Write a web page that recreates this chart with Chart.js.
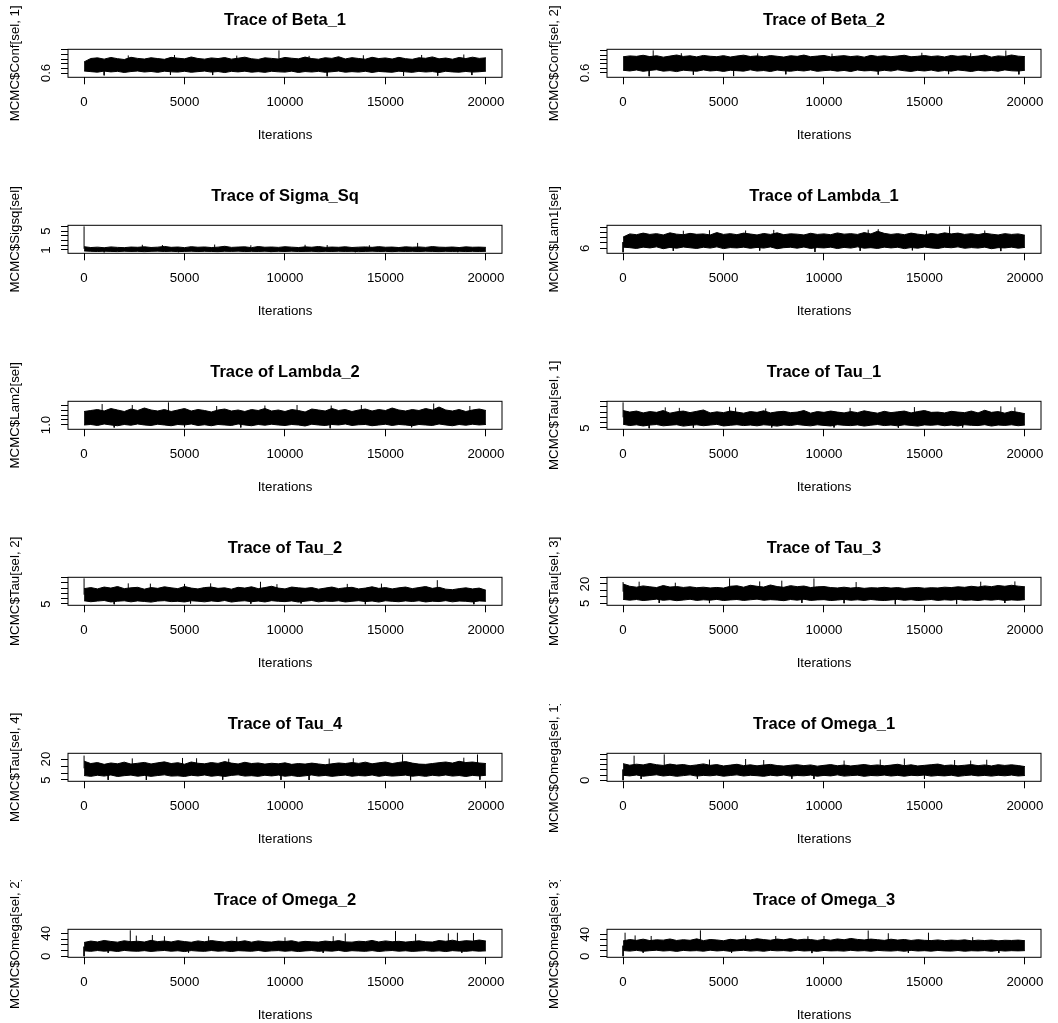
<!DOCTYPE html>
<html><head><meta charset="utf-8">
<script src="https://cdn.jsdelivr.net/npm/chart.js@4.4.1/dist/chart.umd.min.js"></script>
<style>
html,body{margin:0;padding:0;background:#fff;overflow:hidden;}
#wrap{position:relative;width:1058px;height:1023px;overflow:hidden;}
.panel{position:absolute;width:529px;height:176px;}
canvas{display:block;}
</style></head><body><div id="wrap"></div>
<script>
// Iteration axis shared by every trace
const iterFirst = 1, iterLast = 20000;
const iterTicks = [0, 5000, 10000, 15000, 20000];

// Each trace: upper / lower envelope of the chain (sampled evenly over the run),
// plus single-draw excursions [iteration, value] that poke out of the band.
const beta1Ticks = [0.6, 0.65, 0.7, 0.75, 0.8, 0.85];
const beta1TickLabels = ['0.6', '', '', '', '', ''];
const beta1Hi = [0.72,0.757,0.764,0.75,0.768,0.755,0.746,0.77,0.758,0.751,0.765,0.756,0.748,0.769,0.76,0.753,0.773,0.757,0.75,0.763,0.756,0.767,0.75,0.76,0.771,0.754,0.747,0.764,0.758,0.751,0.768,0.76,0.753,0.772,0.756,0.749,0.765,0.758,0.776,0.752,0.766,0.757,0.749,0.77,0.756,0.763,0.751,0.769,0.755,0.748,0.765,0.759,0.774,0.753,0.762,0.749,0.768,0.756,0.771,0.758,0.764];
const beta1Lo = [0.622,0.615,0.609,0.621,0.612,0.618,0.606,0.616,0.622,0.611,0.617,0.607,0.62,0.613,0.61,0.619,0.608,0.615,0.621,0.61,0.616,0.605,0.618,0.612,0.62,0.609,0.615,0.607,0.619,0.613,0.61,0.62,0.606,0.616,0.611,0.618,0.608,0.614,0.621,0.609,0.615,0.61,0.619,0.606,0.617,0.612,0.608,0.62,0.613,0.607,0.618,0.611,0.616,0.605,0.619,0.612,0.609,0.617,0.61,0.614,0.62];
const beta1Spikes = [[9700,0.845],[2200,0.79],[4500,0.795],[7600,0.788],[11200,0.785],[13900,0.792],[16800,0.795],[18900,0.8],[1000,0.575],[4300,0.58],[6400,0.578],[12100,0.565],[15900,0.57],[17600,0.572],[19300,0.578]];

const beta2Ticks = [0.6, 0.65, 0.7, 0.75, 0.8, 0.85];
const beta2TickLabels = ['0.6', '', '', '', '', ''];
const beta2Hi = [0.78,0.79,0.785,0.797,0.782,0.792,0.776,0.788,0.8,0.784,0.791,0.779,0.795,0.786,0.781,0.793,0.777,0.789,0.798,0.783,0.79,0.78,0.794,0.786,0.777,0.792,0.785,0.799,0.781,0.788,0.795,0.779,0.787,0.793,0.782,0.79,0.776,0.796,0.784,0.791,0.781,0.789,0.797,0.78,0.786,0.794,0.783,0.79,0.778,0.795,0.785,0.792,0.781,0.788,0.799,0.776,0.79,0.784,0.8,0.787,0.782];
const beta2Lo = [0.63,0.622,0.633,0.618,0.628,0.636,0.62,0.626,0.615,0.631,0.624,0.619,0.634,0.622,0.628,0.617,0.63,0.625,0.62,0.635,0.621,0.627,0.616,0.632,0.624,0.619,0.629,0.622,0.634,0.618,0.626,0.631,0.62,0.628,0.616,0.633,0.623,0.627,0.619,0.63,0.621,0.635,0.624,0.617,0.629,0.622,0.632,0.618,0.627,0.62,0.633,0.625,0.616,0.63,0.622,0.628,0.619,0.634,0.624,0.621,0.63];
const beta2Spikes = [[1500,0.852],[19050,0.85],[14870,0.825],[2900,0.82],[6700,0.818],[10400,0.815],[17300,0.82],[1300,0.563],[5500,0.565],[3500,0.58],[8100,0.585],[12700,0.582],[16200,0.587],[19700,0.584]];

const sigmaTicks = [1, 2, 3, 4, 5, 6];
const sigmaTickLabels = ['1', '', '', '', '5', ''];
const sigmaHi = [1.7,1.52,1.6,1.48,1.65,1.55,1.5,1.62,1.57,1.68,1.53,1.6,1.75,1.56,1.63,1.5,1.7,1.58,1.64,1.52,1.6,1.78,1.55,1.62,1.67,1.5,1.73,1.58,1.63,1.55,1.69,1.6,1.52,1.66,1.58,1.74,1.55,1.62,1.57,1.68,1.53,1.6,1.65,1.56,1.71,1.58,1.62,1.52,1.67,1.59,1.64,1.55,1.72,1.6,1.56,1.63,1.52,1.66,1.58,1.61,1.55];
const sigmaLo = [0.8,0.72,0.68,0.75,0.7,0.66,0.74,0.69,0.72,0.65,0.71,0.76,0.68,0.73,0.66,0.7,0.74,0.67,0.72,0.69,0.65,0.73,0.7,0.76,0.67,0.71,0.68,0.74,0.66,0.72,0.69,0.75,0.67,0.7,0.73,0.65,0.71,0.68,0.74,0.69,0.72,0.66,0.7,0.75,0.68,0.71,0.65,0.73,0.69,0.72,0.67,0.74,0.7,0.66,0.72,0.69,0.73,0.67,0.71,0.68,0.72];
const sigmaSpikes = [[1,6.0],[16600,2.5],[2900,2.1],[3900,2.05],[6500,2.15],[8300,2.0],[11000,2.1],[12100,2.05],[14200,2.0],[1000,0.52],[4700,0.55],[9300,0.56],[13500,0.54],[18600,0.55]];

const lam1Ticks = [6, 7, 8, 9, 10];
const lam1TickLabels = ['6', '', '', '', ''];
const lam1Hi = [8.1,8.7,8.55,8.85,8.6,8.75,8.5,8.9,8.65,8.55,8.8,8.62,8.7,8.5,8.95,8.6,8.75,8.55,8.85,8.68,8.5,8.78,8.6,8.9,8.55,8.72,8.65,8.5,8.82,8.6,8.7,8.55,8.88,8.65,8.75,8.6,8.95,8.7,9.2,8.8,8.6,8.75,8.55,8.85,8.65,8.5,8.78,8.62,8.9,8.7,8.85,8.6,8.75,8.55,8.82,8.65,8.5,8.75,8.6,8.7,8.45];
const lam1Lo = [6.2,6.1,5.95,6.2,6.05,6.25,5.9,6.15,6.0,6.22,6.08,5.95,6.18,6.02,6.25,5.92,6.12,6.05,6.2,5.98,6.15,6.02,6.24,5.9,6.1,6.18,6.0,6.22,5.95,6.12,6.05,6.2,5.93,6.15,6.02,6.25,6.0,6.1,5.95,6.2,6.05,6.18,5.92,6.12,6.0,6.22,6.05,5.95,6.18,6.08,6.25,5.98,6.12,6.02,6.2,5.9,6.1,6.05,6.2,6.0,6.15];
const lam1Spikes = [[1,5.23],[9550,5.3],[16250,10.13],[3000,9.3],[4300,9.4],[6100,9.35],[7500,9.45],[12200,9.5],[12700,9.6],[15100,9.3],[18000,9.35],[2500,5.5],[6800,5.55],[11800,5.5],[14400,5.6],[18800,5.45]];

const lam2Ticks = [1.0, 1.1, 1.2, 1.3, 1.4];
const lam2TickLabels = ['1.0', '', '', '', ''];
const lam2Hi = [1.27,1.29,1.31,1.28,1.33,1.3,1.27,1.32,1.29,1.34,1.3,1.28,1.31,1.27,1.3,1.33,1.28,1.31,1.29,1.26,1.3,1.32,1.28,1.3,1.27,1.31,1.29,1.33,1.28,1.3,1.27,1.31,1.29,1.26,1.32,1.3,1.28,1.33,1.29,1.31,1.27,1.3,1.32,1.28,1.31,1.29,1.34,1.3,1.28,1.31,1.29,1.33,1.3,1.36,1.3,1.28,1.31,1.27,1.3,1.32,1.29];
const lam2Lo = [1.0,1.01,0.99,1.02,1.0,0.985,1.01,0.995,1.02,1.0,0.99,1.015,1.0,0.985,1.01,1.0,1.02,0.99,1.005,0.985,1.01,1.0,0.99,1.02,1.0,0.985,1.01,0.995,1.015,1.0,0.99,1.01,1.0,0.98,1.015,1.0,0.99,1.01,1.0,1.02,0.99,1.005,1.01,0.985,1.0,1.015,0.99,1.01,1.0,0.985,1.01,1.0,0.99,1.02,1.0,0.985,1.01,0.995,1.015,1.0,1.01];
const lam2Spikes = [[4200,1.454],[12250,0.934],[900,1.42],[2400,1.4],[6600,1.38],[9000,1.39],[10600,1.4],[12300,1.39],[13800,1.4],[17400,1.43],[19200,1.38],[1500,0.95],[5000,0.955],[7800,0.95],[16300,0.955]];

const tau1Ticks = [5, 6, 7, 8, 9, 10];
const tau1TickLabels = ['5', '', '', '', '', ''];
const tau1Hi = [8.3,8.0,8.2,7.85,8.1,7.95,8.3,7.8,8.05,8.2,7.9,8.15,8.4,7.85,8.05,7.9,8.2,8.0,7.8,8.1,7.95,8.25,7.85,8.05,8.15,7.9,8.0,8.3,7.8,8.1,7.95,8.2,8.0,7.85,8.1,7.9,8.25,8.0,7.8,8.15,7.9,8.05,8.2,7.85,8.1,8.3,7.95,8.0,7.85,8.15,8.0,7.9,8.2,7.85,8.35,7.95,8.1,7.8,8.15,7.95,7.7];
const tau1Lo = [5.7,5.45,5.6,5.38,5.55,5.65,5.4,5.52,5.62,5.35,5.5,5.6,5.42,5.55,5.68,5.38,5.5,5.62,5.45,5.55,5.4,5.6,5.5,5.35,5.58,5.45,5.65,5.5,5.4,5.6,5.48,5.38,5.62,5.5,5.44,5.58,5.36,5.52,5.65,5.45,5.55,5.4,5.6,5.48,5.35,5.58,5.5,5.62,5.42,5.55,5.38,5.6,5.5,5.45,5.62,5.36,5.55,5.48,5.6,5.42,5.55];
const tau1Spikes = [[1,9.85],[1300,4.94],[2100,8.9],[2800,8.8],[5300,9.0],[5600,8.85],[7100,8.7],[11300,8.8],[14500,8.95],[18800,9.1],[19500,8.9],[3500,5.05],[7400,5.1],[10500,5.1],[13700,5.05],[16900,5.1]];

const tau2Ticks = [5, 6, 7, 8, 9, 10];
const tau2TickLabels = ['5', '', '', '', '', ''];
const tau2Hi = [7.9,8.1,7.85,8.2,8.0,8.3,7.9,8.05,8.15,7.8,8.1,7.95,8.25,8.05,7.9,8.3,8.0,7.85,8.1,8.2,7.95,8.05,7.8,8.15,8.0,8.25,7.9,8.1,8.35,8.0,7.85,8.2,8.05,7.95,8.1,7.8,8.0,8.2,7.9,8.05,8.15,7.85,8.0,8.25,7.95,8.1,7.85,8.05,8.2,7.9,8.1,8.3,7.95,8.15,7.8,7.7,7.9,8.05,7.85,8.0,7.6];
const tau2Lo = [5.6,5.42,5.55,5.65,5.38,5.52,5.6,5.4,5.58,5.47,5.35,5.55,5.62,5.44,5.5,5.38,5.6,5.52,5.4,5.58,5.45,5.65,5.36,5.52,5.6,5.42,5.55,5.38,5.62,5.5,5.44,5.58,5.36,5.52,5.65,5.4,5.55,5.48,5.6,5.38,5.5,5.62,5.45,5.56,5.36,5.6,5.5,5.42,5.58,5.46,5.6,5.38,5.52,5.45,5.62,5.4,5.55,5.5,5.38,5.58,5.5];
const tau2Spikes = [[1,9.85],[17580,9.5],[8780,9.2],[2200,8.9],[3300,8.85],[5000,8.8],[6300,8.9],[9600,8.75],[13100,8.8],[14800,8.85],[1500,4.94],[14000,4.95],[19400,4.95],[5300,5.1],[8300,5.05],[10800,5.1]];

const tau3Ticks = [5, 10, 15, 20, 25];
const tau3TickLabels = ['5', '', '', '20', ''];
const tau3Hi = [20,18.2,17.5,18.5,17.8,17.2,18.8,17.6,18,17.3,17.8,17.1,17.5,16.9,17.3,16.8,18.2,18.6,17.5,19,18.2,17.6,19.2,18,17.4,18.7,17.9,18.4,17.2,17.8,18,17.2,16.9,17.5,16.8,17.3,16.6,17.1,16.9,17.4,16.8,17.2,16.5,17,17.3,16.7,17.1,16.9,17.5,17.2,17.8,17.4,18.2,17.6,18.5,17.9,18.8,18.2,19,18.3,17.8];
const tau3Lo = [8,7.4,7.9,7.1,7.6,8.2,7.3,7.8,7,7.5,8.1,7.2,7.7,7.4,8,7.1,7.6,7.9,7.2,7.7,8.2,7.3,7.8,7.5,7,7.9,7.4,8.1,7.2,7.6,7.8,7.1,7.5,8,7.3,7.7,7.2,7.9,7.4,7.1,7.6,8,7.3,7.8,7.1,7.5,7.9,7.2,7.7,7.4,8,7.3,7.6,7.1,7.8,7.4,7.9,7.2,7.6,7.3,7.8];
const tau3Spikes = [[5300,24.4],[9500,24.3],[1,21.5],[800,21.8],[2600,21],[6800,22],[7900,22.6],[11600,21.5],[17800,21.8],[19500,22],[13550,4.2],[16600,4.3],[1800,5.2],[4300,5.1],[8900,5.3],[11000,5.0],[19000,5.2]];

const tau4Ticks = [5, 10, 15, 20];
const tau4TickLabels = ['5', '', '', '20'];
const tau4Hi = [18.5,16.8,17.5,16.2,17.2,16.6,17.8,16.4,17,17.6,16.5,17.3,18,16.8,17.4,16.3,17.9,17,16.6,17.5,16.9,18.2,17.1,16.5,17.7,16.8,17.2,16.4,17,16.6,17.3,16.2,16.8,16.4,17.1,16.5,15.9,16.6,17.2,16.8,17.5,16.9,17.8,16.6,17.3,17.9,16.8,17.6,18.2,17.1,16.4,16.2,16.8,17.4,17.9,17.1,18.4,17.5,17.9,17.2,16.8];
const tau4Lo = [8.2,7.6,8.4,7.8,8.6,7.5,8.1,8.5,7.7,8.3,7.6,8.2,8.7,7.8,8,7.5,8.4,7.9,8.6,7.7,8.2,7.5,8.3,8.7,7.8,8.1,7.6,8.4,7.9,8.5,7.7,8.2,7.5,8,8.6,7.8,8.3,7.6,8.1,8.5,7.7,8.2,7.9,8.6,7.6,8.3,7.8,8.1,8.5,7.7,8.2,7.6,8.4,7.9,8.6,7.8,8.2,7.5,8.3,7.9,8.4];
const tau4Spikes = [[1,22.5],[15850,23.4],[19580,23.3],[2400,20.5],[4900,20.8],[5600,20.6],[7200,20.3],[12200,20.4],[13400,20.6],[18900,21],[16250,4.8],[1200,5.1],[3100,5.0],[6900,5.2],[9800,5.1],[11200,5.0],[19700,5.2]];

const om1Ticks = [0, 5, 10, 15, 20, 25];
const om1TickLabels = ['0', '', '', '', '', ''];
const om1Hi = [16,14.5,15.5,14.8,16.2,15,14.3,15.6,14.6,15.2,14,14.8,15.8,14.4,15.1,13.8,14.6,15.4,14.1,14.9,13.9,14.7,15.3,14.2,13.7,14.5,15,14.1,14.8,13.6,14.4,15.1,14,14.7,13.8,14.5,15.2,14.2,14.8,13.9,14.6,15.4,14.1,14.9,13.8,14.4,15,15.6,14.2,14.7,13.9,14.5,15.1,14.1,14.8,13.8,15,14.3,14.9,14.2,13.2];
const om1Lo = [4.8,4.2,5.1,3.9,4.6,5.3,4.1,4.8,3.8,4.5,5.2,4,4.7,4.3,5,3.9,4.6,5.2,4.1,4.8,4.4,3.8,4.9,4.2,5.1,4,4.6,4.3,5,3.9,4.7,4.2,5.2,4,4.5,4.9,3.8,4.6,4.3,5,4.1,4.7,3.9,4.8,4.4,5.1,4,4.6,4.2,4.9,3.8,4.5,5,4.2,4.7,4,4.8,4.3,5,4.1,4.6];
const om1Spikes = [[1,0],[550,23.7],[2050,25],[4300,20],[6100,20.5],[7000,19.5],[11000,19],[12800,20],[14000,21],[16500,19.5],[17300,19],[18100,19.8],[900,1.3],[3700,1.5],[8400,1.4],[9500,1.2],[15000,1.3]];

const om2Ticks = [0, 10, 20, 30, 40];
const om2TickLabels = ['0', '', '', '', '40'];
const om2Hi = [24,26.5,25,27.5,25.8,24.6,27,25.4,26.2,24.8,27.8,25.5,26.6,24.9,27.2,25.6,24.4,26.8,25.2,27.4,25.9,24.7,26.3,25.1,27,24.6,26.7,25.3,24.8,26.4,25.7,27.1,24.5,26,25.2,24.7,26.5,25.4,27.3,25,24.6,26.2,25.5,27.6,24.9,26.8,25.3,26.1,24.7,25.8,26.9,25.2,24.8,27.4,26.1,28,25.6,27.2,26.4,28.3,26.5];
const om2Lo = [9.5,8.6,10,8.9,9.7,8.3,10.2,9.1,8.7,9.8,8.4,9.4,10.1,8.8,9.6,8.2,9.9,9,8.6,10,8.9,9.5,8.3,9.8,9.2,8.7,10.1,8.5,9.4,9.9,8.8,9.6,8.2,9.3,10,8.6,9.5,8.9,10.2,8.4,9.7,9.1,8.6,9.9,8.3,9.4,10,8.8,9.6,8.5,9.2,9.9,8.7,9.5,8.2,9.8,9,8.6,9.7,8.9,9.4];
const om2Spikes = [[1,0],[2300,45.2],[15500,44],[13000,40],[16500,39],[18130,40],[18580,41],[19380,40.5],[2600,36],[3400,37],[4000,35],[6200,35],[7600,34],[10000,33],[12400,35],[1200,6],[5200,6.5],[11900,6],[18800,6.2]];

const om3Ticks = [0, 10, 20, 30, 40];
const om3TickLabels = ['0', '', '', '', '40'];
const om3Hi = [28,30.5,29,31.2,28.6,30,29.4,31.5,28.8,30.2,29.1,31.8,28.5,30.6,29.7,28.3,30.9,29.5,31.1,29.8,32,30.4,29.2,31.4,30,32.2,29.6,31,30.5,28.9,30.8,29.3,31.6,30.1,32.5,30.7,29.8,31.3,30.2,29,31.1,29.5,30.6,28.8,30.2,29.1,28.6,29.8,28.4,29.5,28.9,29.9,28.2,29.4,28.7,29.6,28.1,29.2,28.8,29.5,28.4];
const om3Lo = [10.5,9.4,10.8,9.1,10.2,11,9.6,10.4,8.9,10.7,9.8,10.3,9.2,11.1,9.7,10.5,9,10.1,10.9,9.5,10.3,9.1,10.8,9.9,10.4,9.3,11,9.6,10.2,9,10.6,9.8,10.1,9.4,10.9,9.7,10.3,9.2,10.7,9.9,9.5,10.4,9.1,10.8,9.6,10.2,9.3,10.6,9.8,9.4,10.5,9.2,10.1,9.7,10.4,9.1,10.6,9.5,10.2,9.8,10.3];
const om3Spikes = [[1,0],[100,43],[3850,47.3],[12200,47],[15200,43],[13200,42],[600,38],[1400,37],[6100,38],[7600,37],[9200,36.5],[10000,37],[17400,35],[1000,6.5],[5400,6],[9400,5.8],[14200,6.2],[18700,6]];

const titles = ['Trace of Beta_1', 'Trace of Beta_2', 'Trace of Sigma_Sq', 'Trace of Lambda_1',
  'Trace of Lambda_2', 'Trace of Tau_1', 'Trace of Tau_2', 'Trace of Tau_3',
  'Trace of Tau_4', 'Trace of Omega_1', 'Trace of Omega_2', 'Trace of Omega_3'];
const yTitles = ['MCMC$Conf[sel, 1]', 'MCMC$Conf[sel, 2]', 'MCMC$Sigsq[sel]', 'MCMC$Lam1[sel]',
  'MCMC$Lam2[sel]', 'MCMC$Tau[sel, 1]', 'MCMC$Tau[sel, 2]', 'MCMC$Tau[sel, 3]',
  'MCMC$Tau[sel, 4]', 'MCMC$Omega[sel, 1]', 'MCMC$Omega[sel, 2]', 'MCMC$Omega[sel, 3]'];

const series = [
  [beta1Ticks, beta1TickLabels, beta1Hi, beta1Lo, beta1Spikes],
  [beta2Ticks, beta2TickLabels, beta2Hi, beta2Lo, beta2Spikes],
  [sigmaTicks, sigmaTickLabels, sigmaHi, sigmaLo, sigmaSpikes],
  [lam1Ticks, lam1TickLabels, lam1Hi, lam1Lo, lam1Spikes],
  [lam2Ticks, lam2TickLabels, lam2Hi, lam2Lo, lam2Spikes],
  [tau1Ticks, tau1TickLabels, tau1Hi, tau1Lo, tau1Spikes],
  [tau2Ticks, tau2TickLabels, tau2Hi, tau2Lo, tau2Spikes],
  [tau3Ticks, tau3TickLabels, tau3Hi, tau3Lo, tau3Spikes],
  [tau4Ticks, tau4TickLabels, tau4Hi, tau4Lo, tau4Spikes],
  [om1Ticks, om1TickLabels, om1Hi, om1Lo, om1Spikes],
  [om2Ticks, om2TickLabels, om2Hi, om2Lo, om2Spikes],
  [om3Ticks, om3TickLabels, om3Hi, om3Lo, om3Spikes]
];

const FONT = '"Liberation Sans", Arial, sans-serif';
const PANEL_W = 529, PANEL_H = 176, COL_STEP = 539, ROW_STEP = 176;
const BOX_LEFT = 68, BOX_RIGHT = 502, BOX_TOP = 49.3, BOX_BOTTOM = 77.3;

// Frame, titles and rotated y tick labels, placed from the chart's own geometry.
const decor = {
  id: 'decor',
  afterDraw(chart) {
    const ctx = chart.ctx, a = chart.chartArea, p = chart.options.plugins.decor;
    const y = chart.scales.y;
    ctx.save();
    ctx.strokeStyle = '#000'; ctx.lineWidth = 1;
    ctx.strokeRect(a.left, a.top, a.right - a.left, a.bottom - a.top);
    ctx.fillStyle = '#000';
    ctx.textAlign = 'center';
    ctx.font = 'bold 16.5px ' + FONT;
    ctx.textBaseline = 'alphabetic';
    ctx.fillText(p.title, (a.left + a.right) / 2, 24.5);
    ctx.font = '13.3px ' + FONT;
    ctx.fillText('Iterations', (a.left + a.right) / 2, 139);
    ctx.translate(15, (a.top + a.bottom) / 2);
    ctx.rotate(-Math.PI / 2);
    ctx.textBaseline = 'middle';
    ctx.fillText(p.ylab, 0, 0);
    ctx.restore();

    ctx.save();
    ctx.fillStyle = '#000'; ctx.font = '13.3px ' + FONT;
    ctx.textAlign = 'center'; ctx.textBaseline = 'middle';
    p.ticks.forEach((v, i) => {
      const label = p.labels[i];
      if (!label) return;
      const py = y.getPixelForValue(v);
      ctx.save(); ctx.translate(46, py); ctx.rotate(-Math.PI / 2);
      ctx.fillText(label, 0, 0); ctx.restore();
    });
    ctx.restore();
  }
};

const wrap = document.getElementById('wrap');
series.forEach(([ticks, labels, hi, lo, spikes], idx) => {
  const col = idx % 2, row = Math.floor(idx / 2);
  const div = document.createElement('div');
  div.className = 'panel';
  div.style.left = (col * COL_STEP) + 'px';
  div.style.top = (row * ROW_STEP) + 'px';
  const cv = document.createElement('canvas');
  cv.width = PANEL_W; cv.height = PANEL_H;
  cv.style.width = PANEL_W + 'px'; cv.style.height = PANEL_H + 'px';
  div.appendChild(cv); wrap.appendChild(div);

  const n = hi.length;
  const xs = hi.map((_, i) => iterFirst + i * (iterLast - iterFirst) / (n - 1));
  const hiPts = hi.map((v, i) => ({x: xs[i], y: v}));
  const loPts = lo.map((v, i) => ({x: xs[i], y: v}));
  // each excursion is a vertical stroke from the middle of the band out to its value
  const spikePts = [];
  spikes.forEach(([it, v]) => {
    const k = Math.min(n - 1, Math.round((it - iterFirst) / (iterLast - iterFirst) * (n - 1)));
    spikePts.push({x: it, y: (hi[k] + lo[k]) / 2}, {x: it, y: v}, {x: it, y: null});
  });
  const all = hi.concat(lo, spikes.map(s => s[1]));
  const dMin = Math.min(...all), dMax = Math.max(...all);
  const pad = 0.04 * (dMax - dMin);
  const xPad = 0.04 * (iterLast - iterFirst);

  new Chart(cv, {
    type: 'line',
    data: {datasets: [
      {data: hiPts, borderColor: '#000', backgroundColor: '#000', borderWidth: 1, pointRadius: 0, fill: '+1', tension: 0},
      {data: loPts, borderColor: '#000', borderWidth: 1, pointRadius: 0, fill: false, tension: 0},
      {data: spikePts, borderColor: '#000', borderWidth: 1, pointRadius: 0, fill: false, spanGaps: false}
    ]},
    options: {
      responsive: false, animation: false, events: [], devicePixelRatio: 1,
      layout: {padding: {left: 0, right: PANEL_W - BOX_RIGHT, top: BOX_TOP, bottom: 0}},
      plugins: {legend: {display: false}, tooltip: {enabled: false},
        decor: {title: titles[idx], ylab: yTitles[idx], ticks: ticks, labels: labels}},
      scales: {
        x: {type: 'linear', min: iterFirst - xPad, max: iterLast + xPad,
          afterBuildTicks: s => { s.ticks = iterTicks.map(v => ({value: v})); },
          afterFit: s => { s.height = PANEL_H - BOX_BOTTOM; },
          grid: {drawOnChartArea: false, drawTicks: true, tickLength: 7, color: '#000'},
          border: {display: false},
          ticks: {color: '#000', font: {family: FONT, size: 13.3}, padding: 10, maxRotation: 0,
            callback: v => String(v)}},
        y: {type: 'linear', min: dMin - pad, max: dMax + pad,
          afterBuildTicks: s => { s.ticks = ticks.map(v => ({value: v})); },
          afterFit: s => { s.width = BOX_LEFT; },
          grid: {drawOnChartArea: false, drawTicks: true, tickLength: 7, color: '#000'},
          border: {display: false},
          ticks: {display: false}}
      }
    },
    plugins: [decor]
  });
});
</script>
</body></html>
